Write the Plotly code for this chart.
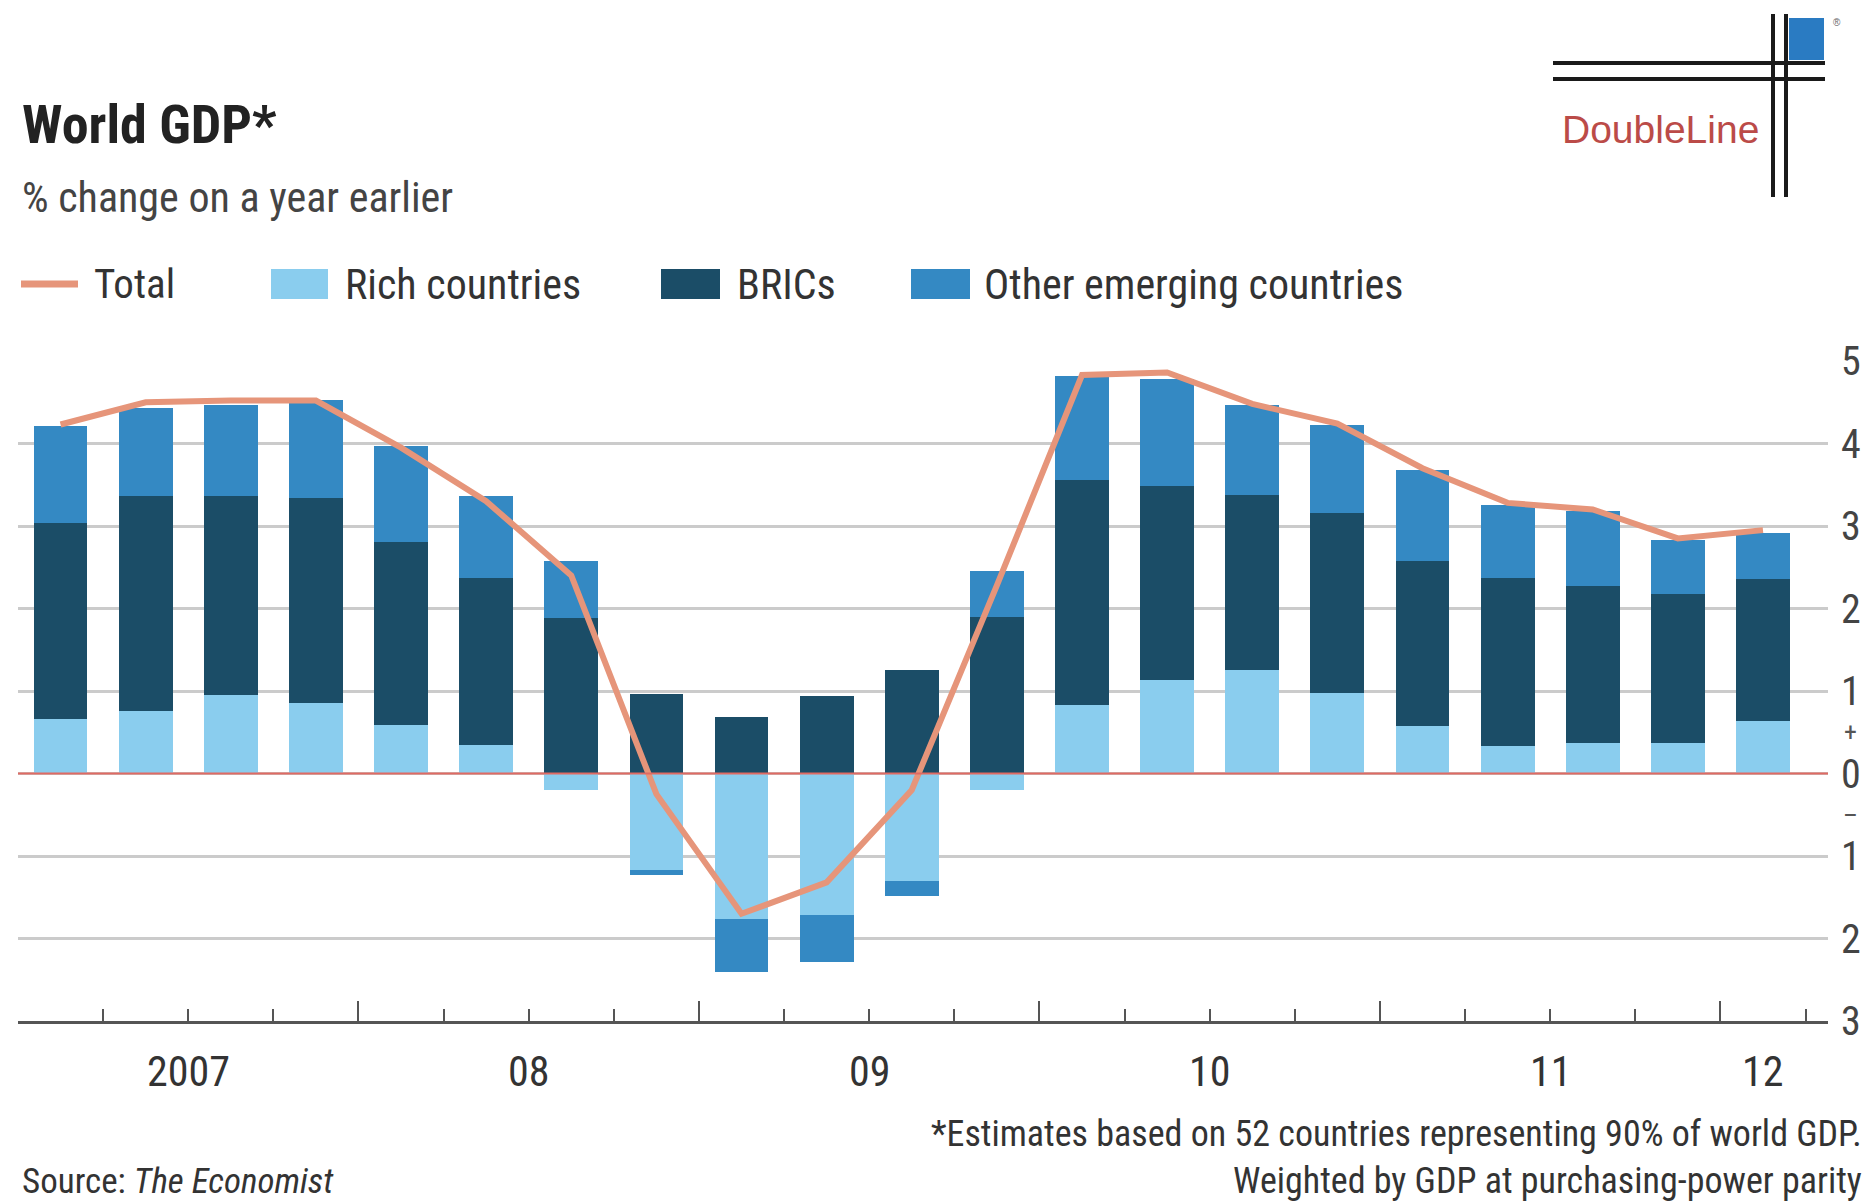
import plotly.graph_objects as go

# ---------------- data ----------------
quarters = [2007.125 + 0.25 * i for i in range(21)]  # 2007Q1 .. 2012Q1 (quarter centres)
rich = [0.66, 0.76, 0.95, 0.86, 0.59, 0.34, -0.20, -1.17, -1.76, -1.72, -1.30, -0.20,
        0.83, 1.13, 1.26, 0.98, 0.57, 0.33, 0.37, 0.37, 0.64]
brics = [2.38, 2.60, 2.41, 2.48, 2.22, 2.03, 1.89, 0.96, 0.69, 0.94, 1.26, 1.90,
         2.73, 2.35, 2.12, 2.18, 2.00, 2.04, 1.90, 1.80, 1.72]
other = [1.17, 1.07, 1.11, 1.19, 1.16, 0.99, 0.68, -0.06, -0.65, -0.57, -0.18, 0.56,
         1.26, 1.30, 1.09, 1.07, 1.11, 0.89, 0.91, 0.66, 0.55]
total = [4.23, 4.50, 4.52, 4.52, 3.95, 3.30, 2.40, -0.25, -1.70, -1.32, -0.20, 2.28,
         4.83, 4.86, 4.48, 4.24, 3.70, 3.28, 3.20, 2.85, 2.95]
year_labels = ["2007", "08", "09", "10", "11", "12"]
year_label_pos = [2007.5, 2008.5, 2009.5, 2010.5, 2011.5, 2012.125]
ytick_vals = [-3, -2, -1, 0, 1, 2, 3, 4, 5]
ytick_text = ["3", "2", "1", "0", "1", "2", "3", "4", "5"]

# ---------------- style ----------------
C_RICH = "#8acdee"
C_BRICS = "#1b4d67"
C_OTHER = "#3489c3"
C_TOTAL = "#e6957a"
FONT = "Liberation Sans Narrow, Roboto Condensed, DejaVu Sans Condensed, Arial Narrow, sans-serif"

W, H = 1873, 1203
L, R, T, B = 18, 1828, 361, 1021  # plot area in pixels


def px(x):
    return (x - L) / (R - L)


def py(y):
    return (B - y) / (B - T)


BAR_W = 0.158

fig = go.Figure()
fig.add_trace(go.Bar(x=quarters, y=rich, width=BAR_W, marker=dict(color=C_RICH, line_width=0),
                     name="Rich countries", showlegend=False))
fig.add_trace(go.Bar(x=quarters, y=brics, width=BAR_W, marker=dict(color=C_BRICS, line_width=0),
                     name="BRICs", showlegend=False))
fig.add_trace(go.Bar(x=quarters, y=other, width=BAR_W, marker=dict(color=C_OTHER, line_width=0),
                     name="Other emerging countries", showlegend=False))
fig.add_trace(go.Scatter(x=quarters, y=total, mode="lines", line=dict(color=C_TOTAL, width=6),
                         name="Total", showlegend=False))

shapes = []
annotations = []

# zero line (red)
shapes.append(dict(type="line", xref="paper", yref="y", x0=0, x1=1, y0=0, y1=0,
                   line=dict(color="#e06a63", width=2), layer="above"))

# + / - markers on right axis
annotations.append(dict(xref="paper", yref="y", x=px(1851), y=0.5, text="+", showarrow=False,
                        font=dict(family=FONT, size=26, color="#555"), xanchor="center", yanchor="middle"))
annotations.append(dict(xref="paper", yref="y", x=px(1851), y=-0.5, text="–", showarrow=False,
                        font=dict(family=FONT, size=26, color="#555"), xanchor="center", yanchor="middle"))

# year labels
for lab, pos in zip(year_labels, year_label_pos):
    annotations.append(dict(xref="x", yref="paper", x=pos, y=py(1071), text=lab, showarrow=False,
                            font=dict(family=FONT, size=42, color="#333"), xanchor="center", yanchor="middle"))

# title + subtitle
annotations.append(dict(xref="paper", yref="paper", x=px(20), y=py(125), text="<b>World GDP*</b>",
                        showarrow=False, xanchor="left", yanchor="middle",
                        font=dict(family=FONT, size=54, color="#222")))
annotations.append(dict(xref="paper", yref="paper", x=px(20), y=py(198), text="% change on a year earlier",
                        showarrow=False, xanchor="left", yanchor="middle",
                        font=dict(family=FONT, size=42, color="#444")))

# legend (manual)
LEG_Y = 284
shapes.append(dict(type="line", xref="paper", yref="paper", x0=px(21), x1=px(78), y0=py(LEG_Y), y1=py(LEG_Y),
                   line=dict(color=C_TOTAL, width=7)))
annotations.append(dict(xref="paper", yref="paper", x=px(92), y=py(LEG_Y), text="Total", showarrow=False,
                        xanchor="left", yanchor="middle", font=dict(family=FONT, size=41, color="#333")))
for (x0, x1, tx, col, lab) in [(271, 328, 343, C_RICH, "Rich countries"),
                               (661, 720, 735, C_BRICS, "BRICs"),
                               (911, 970, 982, C_OTHER, "Other emerging countries")]:
    shapes.append(dict(type="rect", xref="paper", yref="paper", x0=px(x0), x1=px(x1),
                       y0=py(LEG_Y - 15), y1=py(LEG_Y + 15), fillcolor=col, line_width=0))
    annotations.append(dict(xref="paper", yref="paper", x=px(tx), y=py(LEG_Y), text=lab, showarrow=False,
                            xanchor="left", yanchor="middle", font=dict(family=FONT, size=42, color="#333")))

# footnotes
annotations.append(dict(xref="paper", yref="paper", x=px(1864), y=py(1134),
                        text="*Estimates based on 52 countries representing 90% of world GDP.",
                        showarrow=False, xanchor="right", yanchor="middle",
                        font=dict(family=FONT, size=36, color="#333")))
annotations.append(dict(xref="paper", yref="paper", x=px(1864), y=py(1181),
                        text="Weighted by GDP at purchasing-power parity",
                        showarrow=False, xanchor="right", yanchor="middle",
                        font=dict(family=FONT, size=36, color="#333")))
annotations.append(dict(xref="paper", yref="paper", x=px(20), y=py(1181),
                        text="Source: <i>The Economist</i>",
                        showarrow=False, xanchor="left", yanchor="middle",
                        font=dict(family=FONT, size=35, color="#333")))

# DoubleLine logo
for yy in (63, 79):
    shapes.append(dict(type="line", xref="paper", yref="paper", x0=px(1553), x1=px(1825), y0=py(yy), y1=py(yy),
                       line=dict(color="#1a1a1a", width=4)))
for xx in (1773, 1786):
    shapes.append(dict(type="line", xref="paper", yref="paper", x0=px(xx), x1=px(xx), y0=py(14), y1=py(197),
                       line=dict(color="#1a1a1a", width=4)))
shapes.append(dict(type="rect", xref="paper", yref="paper", x0=px(1789), x1=px(1824), y0=py(60), y1=py(18),
                   fillcolor="#2a7bc2", line_width=0))
annotations.append(dict(xref="paper", yref="paper", x=px(1660), y=py(130), text="DoubleLine", showarrow=False,
                        xanchor="center", yanchor="middle",
                        font=dict(family="Liberation Sans, Arial", size=39, color="#bb4b48")))
annotations.append(dict(xref="paper", yref="paper", x=px(1837), y=py(22), text="®", showarrow=False,
                        xanchor="center", yanchor="middle",
                        font=dict(family="Liberation Sans", size=10, color="#666")))

fig.update_layout(
    width=W, height=H,
    margin=dict(l=L, r=W - R, t=T, b=H - B, pad=0),
    paper_bgcolor="white", plot_bgcolor="white",
    barmode="relative", bargap=0,
    showlegend=False,
    shapes=shapes, annotations=annotations,
    font=dict(family=FONT, color="#333"),
)
fig.update_xaxes(
    range=[2007, 2012.316], showgrid=False, zeroline=False,
    showline=True, linecolor="#555", linewidth=2.5,
    tickvals=[2007, 2008, 2009, 2010, 2011, 2012], ticktext=[""] * 6,
    ticks="inside", ticklen=20, tickwidth=2, tickcolor="#555",
    minor=dict(dtick=0.25, tick0=2007, ticks="inside", ticklen=12, tickwidth=2, tickcolor="#555"),
)
fig.update_yaxes(
    range=[-3, 5], side="right", showline=False, zeroline=False,
    showgrid=True, gridcolor="#cbcbcb", gridwidth=3,
    tickvals=ytick_vals, ticktext=ytick_text, ticks="", ticklabelstandoff=12,
    tickfont=dict(family=FONT, size=40, color="#444"),
)

fig.write_html("out.html")
